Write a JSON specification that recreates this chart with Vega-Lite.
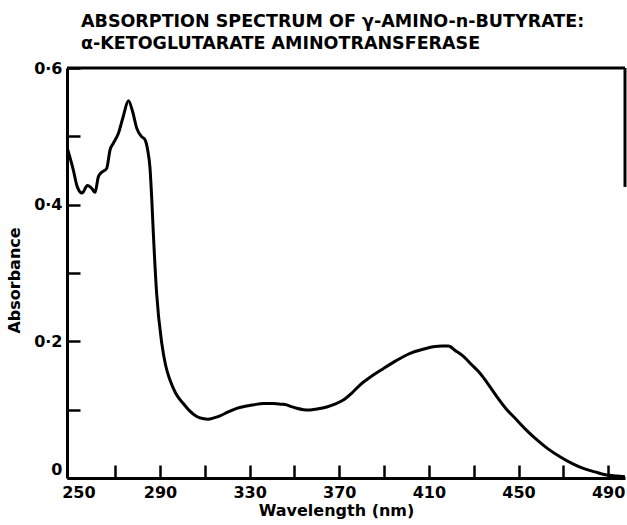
{
  "$schema": "https://vega.github.io/schema/vega-lite/v6.json",
  "width": 558,
  "height": 410,
  "autosize": {"type": "none"},
  "padding": {"left": 67, "top": 68, "right": 2, "bottom": 47},
  "background": "white",
  "config": {
    "view": {"stroke": null},
    "font": "DejaVu Sans"
  },
  "title": {
    "text": ["ABSORPTION SPECTRUM OF γ-AMINO-n-BUTYRATE:", "α-KETOGLUTARATE AMINOTRANSFERASE"],
    "anchor": "start",
    "frame": "group",
    "dx": 14,
    "offset": 8,
    "font": "DejaVu Sans",
    "fontSize": 17.5,
    "fontWeight": "bold",
    "lineHeight": 22,
    "color": "black"
  },
  "datasets": {
    "curve": [
      {"wavelength": 248.5, "absorbance": 0.484},
      {"wavelength": 251.3, "absorbance": 0.451},
      {"wavelength": 253.1, "absorbance": 0.426},
      {"wavelength": 255.2, "absorbance": 0.417},
      {"wavelength": 257.6, "absorbance": 0.428},
      {"wavelength": 259.5, "absorbance": 0.424},
      {"wavelength": 261.0, "absorbance": 0.418},
      {"wavelength": 262.5, "absorbance": 0.441},
      {"wavelength": 263.5, "absorbance": 0.446},
      {"wavelength": 266.2, "absorbance": 0.453},
      {"wavelength": 267.7, "absorbance": 0.48},
      {"wavelength": 269.2, "absorbance": 0.49},
      {"wavelength": 271.4, "absorbance": 0.504},
      {"wavelength": 273.6, "absorbance": 0.529},
      {"wavelength": 275.9, "absorbance": 0.552},
      {"wavelength": 277.8, "absorbance": 0.536},
      {"wavelength": 279.6, "absorbance": 0.512},
      {"wavelength": 281.8, "absorbance": 0.4995},
      {"wavelength": 283.3, "absorbance": 0.495},
      {"wavelength": 284.5, "absorbance": 0.48},
      {"wavelength": 285.5, "absorbance": 0.455},
      {"wavelength": 286.3, "absorbance": 0.41},
      {"wavelength": 287.0, "absorbance": 0.36},
      {"wavelength": 288.5, "absorbance": 0.27},
      {"wavelength": 290.8, "absorbance": 0.197},
      {"wavelength": 292.5, "absorbance": 0.165},
      {"wavelength": 294.5, "absorbance": 0.143},
      {"wavelength": 297.0, "absorbance": 0.124},
      {"wavelength": 300.4, "absorbance": 0.109},
      {"wavelength": 303.0, "absorbance": 0.099},
      {"wavelength": 306.4, "absorbance": 0.09},
      {"wavelength": 309.0, "absorbance": 0.087},
      {"wavelength": 311.5, "absorbance": 0.086},
      {"wavelength": 314.0, "absorbance": 0.088},
      {"wavelength": 316.8, "absorbance": 0.091},
      {"wavelength": 320.0, "absorbance": 0.096},
      {"wavelength": 324.2, "absorbance": 0.102},
      {"wavelength": 328.0, "absorbance": 0.105},
      {"wavelength": 331.6, "absorbance": 0.107},
      {"wavelength": 336.0, "absorbance": 0.109},
      {"wavelength": 340.6, "absorbance": 0.109},
      {"wavelength": 344.0, "absorbance": 0.108},
      {"wavelength": 346.5, "absorbance": 0.107},
      {"wavelength": 349.0, "absorbance": 0.104},
      {"wavelength": 351.0, "absorbance": 0.102},
      {"wavelength": 354.0, "absorbance": 0.1},
      {"wavelength": 356.9, "absorbance": 0.0995},
      {"wavelength": 360.0, "absorbance": 0.101},
      {"wavelength": 364.4, "absorbance": 0.104},
      {"wavelength": 368.0, "absorbance": 0.108},
      {"wavelength": 371.8, "absorbance": 0.114},
      {"wavelength": 375.5, "absorbance": 0.124},
      {"wavelength": 379.2, "absorbance": 0.136},
      {"wavelength": 384.0, "absorbance": 0.148},
      {"wavelength": 389.6, "absorbance": 0.16},
      {"wavelength": 395.0, "absorbance": 0.171},
      {"wavelength": 401.6, "absorbance": 0.1825},
      {"wavelength": 407.0, "absorbance": 0.188},
      {"wavelength": 412.0, "absorbance": 0.192},
      {"wavelength": 416.0, "absorbance": 0.193},
      {"wavelength": 418.7, "absorbance": 0.193},
      {"wavelength": 422.0, "absorbance": 0.186},
      {"wavelength": 425.4, "absorbance": 0.178},
      {"wavelength": 429.0, "absorbance": 0.166},
      {"wavelength": 432.9, "absorbance": 0.153},
      {"wavelength": 436.5, "absorbance": 0.137},
      {"wavelength": 440.3, "absorbance": 0.119},
      {"wavelength": 444.5, "absorbance": 0.101},
      {"wavelength": 449.2, "absorbance": 0.085},
      {"wavelength": 453.5, "absorbance": 0.07},
      {"wavelength": 458.1, "absorbance": 0.056},
      {"wavelength": 463.0, "absorbance": 0.043},
      {"wavelength": 468.5, "absorbance": 0.031},
      {"wavelength": 474.0, "absorbance": 0.021},
      {"wavelength": 478.9, "absorbance": 0.014},
      {"wavelength": 484.0, "absorbance": 0.009},
      {"wavelength": 489.3, "absorbance": 0.0044},
      {"wavelength": 494.0, "absorbance": 0.003},
      {"wavelength": 497.5, "absorbance": 0.002}
    ],
    "topframe": [
      {"x": 248.5, "x2": 497.5, "y": 0.6}
    ],
    "rightframe": [
      {"x": 497.5, "y": 0.426, "y2": 0.6}
    ]
  },
  "layer": [
    {
      "data": {"name": "curve"},
      "mark": {"type": "line", "color": "black", "strokeWidth": 3, "interpolate": "monotone", "clip": true},
      "encoding": {
        "x": {
          "field": "wavelength",
          "type": "quantitative",
          "scale": {"domain": [248.5, 497.5], "nice": false, "zero": false},
          "axis": {
            "title": "Wavelength (nm)",
            "values": [250, 270, 290, 310, 330, 350, 370, 390, 410, 430, 450, 470, 490],
            "labelExpr": "datum.value % 40 == 10 ? datum.value : ''",
            "grid": false,
            "domainColor": "black",
            "domainWidth": 3,
            "tickColor": "black",
            "tickWidth": 2.5,
            "tickSize": -13,
            "tickOpacity": {"condition": {"test": "datum.value == 250", "value": 0}, "value": 1},
            "labelFont": "DejaVu Sans",
            "labelFontSize": 16,
            "labelFontWeight": "bold",
            "labelColor": "black",
            "labelPadding": 19,
            "labelOffset": {"condition": {"test": "datum.value == 250", "value": 8}, "value": 0},
            "labelFlush": false,
            "labelOverlap": false,
            "titleFont": "DejaVu Sans",
            "titleFontSize": 16,
            "titleFontWeight": "bold",
            "titleColor": "black",
            "titleBaseline": "alphabetic",
            "titleX": 269,
            "titleY": 37
          }
        },
        "y": {
          "field": "absorbance",
          "type": "quantitative",
          "scale": {"domain": [0, 0.6], "nice": false},
          "axis": {
            "title": "Absorbance",
            "values": [0, 0.1, 0.2, 0.3, 0.4, 0.5, 0.6],
            "labelExpr": "datum.value == 0 ? '0' : (round(datum.value * 10) % 2 == 0 ? replace(format(datum.value, '.1f'), '.', '·') : '')",
            "grid": false,
            "domainColor": "black",
            "domainWidth": 3,
            "tickColor": "black",
            "tickWidth": 2.5,
            "tickSize": -13,
            "labelFont": "DejaVu Sans",
            "labelFontSize": 16,
            "labelFontWeight": "bold",
            "labelColor": "black",
            "labelPadding": 18,
            "labelOffset": {"condition": {"test": "datum.value == 0", "value": -9}, "value": 0},
            "labelOverlap": false,
            "titleFont": "DejaVu Sans",
            "titleFontSize": 16,
            "titleFontWeight": "bold",
            "titleColor": "black",
            "titleBaseline": "middle",
            "titleX": -53,
            "titleY": 212
          }
        }
      }
    },
    {
      "data": {"name": "topframe"},
      "mark": {"type": "rule", "color": "black", "strokeWidth": 3},
      "encoding": {
        "x": {"field": "x", "type": "quantitative"},
        "x2": {"field": "x2"},
        "y": {"field": "y", "type": "quantitative"}
      }
    },
    {
      "data": {"name": "rightframe"},
      "mark": {"type": "rule", "color": "black", "strokeWidth": 3},
      "encoding": {
        "x": {"field": "x", "type": "quantitative"},
        "y": {"field": "y", "type": "quantitative"},
        "y2": {"field": "y2"}
      }
    }
  ]
}
